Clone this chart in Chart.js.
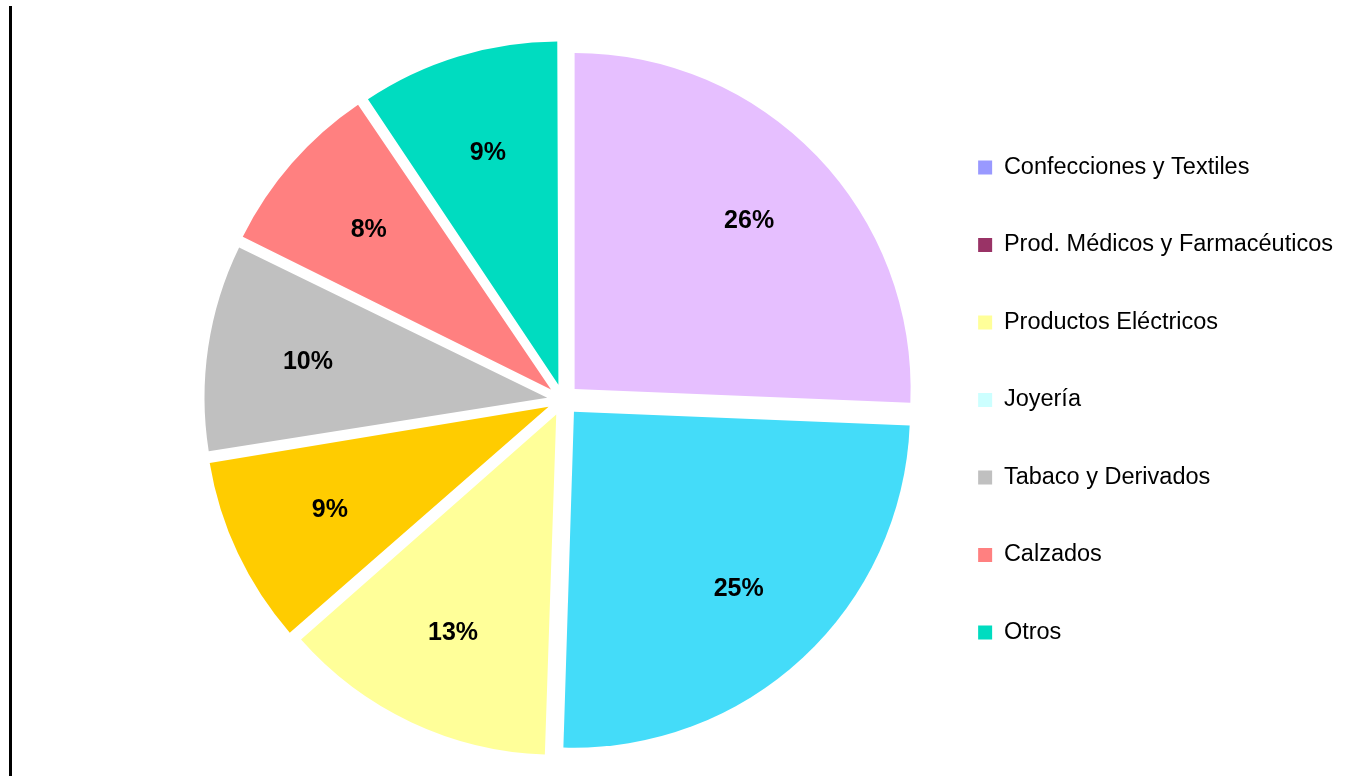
<!DOCTYPE html>
<html lang="es">
<head>
<meta charset="utf-8">
<title>Participación por rubro</title>
<script src="https://cdn.jsdelivr.net/npm/chart.js@4.4.1/dist/chart.umd.min.js"></script>
<style>
  html, body { margin: 0; padding: 0; background: #fff; }
  #wrap { width: 1347px; height: 776px; }
</style>
</head>
<body>
<div id="wrap"><canvas id="pieChart" width="1347" height="776"></canvas></div>
<script>
// Datos (porcentajes aproximados)
const categorias = [
  'Confecciones y Textiles',
  'Prod. Médicos y Farmacéuticos',
  'Productos Eléctricos',
  'Joyería',
  'Tabaco y Derivados',
  'Calzados',
  'Otros'
];
const valores = [25.6, 24.8, 13.0, 8.9, 9.8, 8.3, 9.4];

// Colores de los sectores y de la leyenda (en el original no coinciden)
const coloresSectores = ['#E6BFFF', '#44DCF9', '#FFFF99', '#FFCC00', '#C0C0C0', '#FF8080', '#00DCC0'];
const coloresLeyenda = ['#9999FF', '#993366', '#FFFF99', '#CCFFFF', '#C0C0C0', '#FF8080', '#00DCC0'];

const FUENTE = 'Arial, "Liberation Sans", sans-serif';
// Chart.js v4 desplaza cada sector offset/4 píxeles
const OFFSET = 64;

// Línea vertical del borde izquierdo
const lineaIzquierda = {
  id: 'lineaIzquierda',
  beforeDraw(chart) {
    const ctx = chart.ctx;
    ctx.save();
    ctx.fillStyle = '#000';
    ctx.fillRect(9, 6, 3, chart.height - 6);
    ctx.restore();
  }
};

// Etiquetas de porcentaje dentro de cada sector
const etiquetasPorcentaje = {
  id: 'etiquetasPorcentaje',
  afterDatasetsDraw(chart) {
    const ctx = chart.ctx;
    const meta = chart.getDatasetMeta(0);
    const total = valores.reduce((a, b) => a + b, 0);
    ctx.save();
    ctx.font = 'bold 25px ' + FUENTE;
    ctx.fillStyle = '#000';
    ctx.textAlign = 'center';
    ctx.textBaseline = 'middle';
    meta.data.forEach((arc, i) => {
      const p = arc.getProps(['x', 'y', 'startAngle', 'endAngle', 'outerRadius'], true);
      const medio = (p.startAngle + p.endAngle) / 2;
      const r = OFFSET / 4 + p.outerRadius * 0.72;
      const texto = Math.round(valores[i] / total * 100) + '%';
      ctx.fillText(texto, p.x + Math.cos(medio) * r, p.y + Math.sin(medio) * r);
    });
    ctx.restore();
  }
};

new Chart(document.getElementById('pieChart'), {
  type: 'pie',
  data: {
    labels: categorias,
    datasets: [{
      data: valores,
      backgroundColor: coloresSectores,
      borderWidth: 0,
      offset: OFFSET,
      radius: 336
    }]
  },
  options: {
    responsive: false,
    animation: false,
    layout: {
      padding: { left: 202, right: 4, top: 24, bottom: 0 }
    },
    plugins: {
      tooltip: { enabled: false },
      legend: {
        position: 'right',
        align: 'center',
        labels: {
          color: '#000',
          font: { size: 23.5, family: FUENTE },
          boxWidth: 14,
          boxHeight: 14,
          padding: 54,
          generateLabels(chart) {
            return categorias.map((texto, i) => ({
              text: texto,
              fillStyle: coloresLeyenda[i],
              strokeStyle: coloresLeyenda[i],
              lineWidth: 0,
              hidden: false,
              index: i
            }));
          }
        }
      }
    }
  },
  plugins: [lineaIzquierda, etiquetasPorcentaje]
});
</script>
</body>
</html>
